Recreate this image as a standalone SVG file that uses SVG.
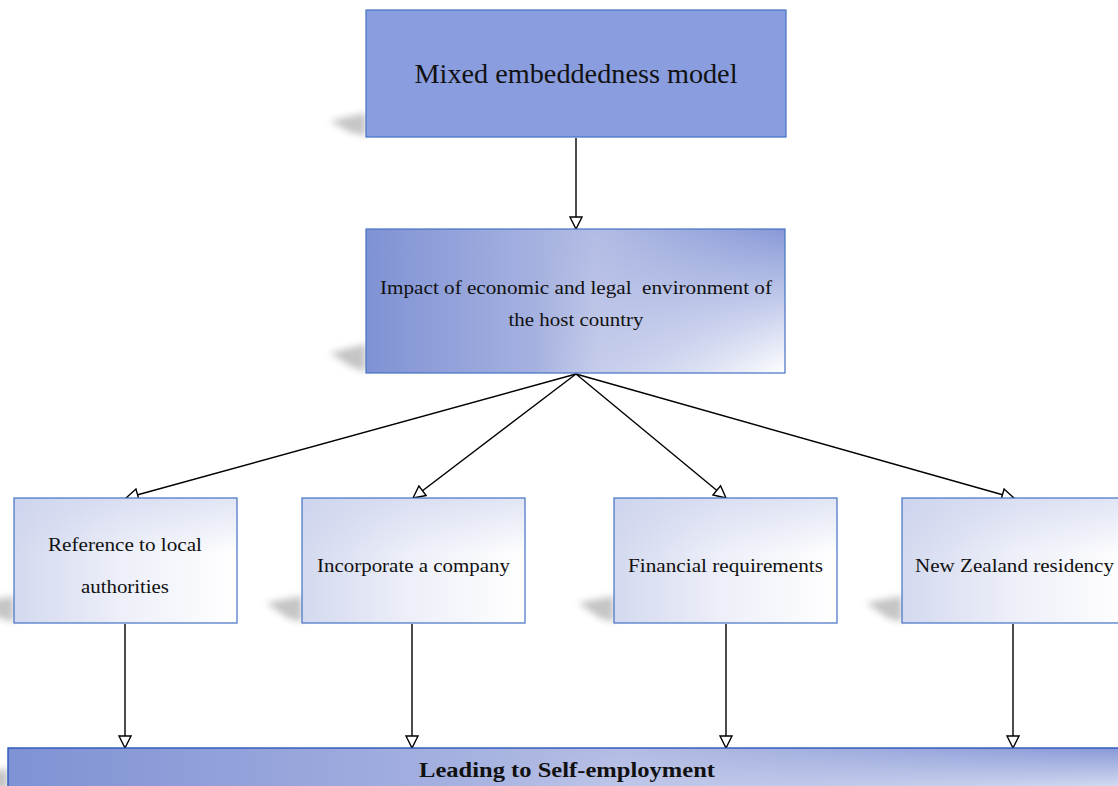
<svg xmlns="http://www.w3.org/2000/svg" width="1118" height="786" viewBox="0 0 1118 786">
  <defs>
    <style>
      .box { stroke: #4472C4; stroke-width: 1.2; }
      .lbl { font-family: "Liberation Serif", "Times New Roman", serif; fill: #111; text-anchor: middle; }
      .edge { stroke: #000; stroke-width: 1.4; fill: none; marker-end: url(#hollow); }
      .shadow { fill: #8a8a8a; opacity: 0.5; filter: url(#soft); }
    </style>
    <marker id="hollow" viewBox="0 0 14 14" refX="13" refY="7" markerWidth="14" markerHeight="14" markerUnits="userSpaceOnUse" orient="auto">
      <path d="M1,1 L13,7 L1,13 Z" fill="#fff" stroke="#000" stroke-width="1.4" stroke-linejoin="miter"/>
    </marker>
    <filter id="soft" x="-50%" y="-50%" width="200%" height="200%">
      <feGaussianBlur stdDeviation="3.5"/>
    </filter>
    <!-- blue fill: dark at the sides, lighter through the middle -->
    <linearGradient id="gBlueH" x1="0" y1="0" x2="1" y2="0">
      <stop offset="0" stop-color="#7f92d4"/>
      <stop offset="0.55" stop-color="#b3bce4"/>
      <stop offset="1" stop-color="#8899d8"/>
    </linearGradient>
    <!-- white glow rising from the lower edge -->
    <linearGradient id="gWhiteV" x1="0" y1="0" x2="0" y2="1">
      <stop offset="0" stop-color="#ffffff" stop-opacity="0"/>
      <stop offset="1" stop-color="#ffffff" stop-opacity="1"/>
    </linearGradient>
    <linearGradient id="gFadeMask" x1="0" y1="0" x2="1" y2="0">
      <stop offset="0" stop-color="#000"/>
      <stop offset="0.4" stop-color="#000"/>
      <stop offset="1" stop-color="#fff"/>
    </linearGradient>
    <mask id="rightFade" maskContentUnits="objectBoundingBox">
      <rect x="0" y="0" width="1" height="1" fill="url(#gFadeMask)"/>
    </mask>
    <!-- pale fill of the four requirement boxes -->
    <linearGradient id="gPaleH" x1="0" y1="0" x2="1" y2="0">
      <stop offset="0" stop-color="#d3d9ef"/>
      <stop offset="0.5" stop-color="#eef0f9"/>
      <stop offset="1" stop-color="#ffffff"/>
    </linearGradient>
    <linearGradient id="gPaleTop" x1="0" y1="0" x2="0" y2="1">
      <stop offset="0" stop-color="#c9d0ec" stop-opacity="0.55"/>
      <stop offset="0.45" stop-color="#c9d0ec" stop-opacity="0"/>
    </linearGradient>
  </defs>

  <rect width="1118" height="786" fill="#ffffff"/>

  <!-- soft cast shadows at the lower-left corner of each box -->
  <g id="shadows">
    <polygon class="shadow" points="330,121 366,113 366,136 350,132"/>
    <polygon class="shadow" points="330,353 366,344 366,372 350,366"/>
    <polygon class="shadow" points="-22,603 14,596 14,622 0,618"/>
    <polygon class="shadow" points="266,603 302,596 302,622 288,618"/>
    <polygon class="shadow" points="578,603 614,596 614,622 600,618"/>
    <polygon class="shadow" points="866,603 902,596 902,622 888,618"/>
    <polygon class="shadow" points="-26,776 8,768 8,790 -6,790"/>
  </g>

  <g id="connectors">
    <line class="edge" x1="576" y1="138" x2="576" y2="229"/>
    <line class="edge" x1="576" y1="374" x2="126" y2="498"/>
    <line class="edge" x1="576" y1="374" x2="413" y2="498"/>
    <line class="edge" x1="576" y1="374" x2="726" y2="498"/>
    <line class="edge" x1="576" y1="374" x2="1014" y2="498"/>
    <line class="edge" x1="125" y1="624" x2="125" y2="748"/>
    <line class="edge" x1="412" y1="624" x2="412" y2="748"/>
    <line class="edge" x1="726" y1="624" x2="726" y2="748"/>
    <line class="edge" x1="1013" y1="624" x2="1013" y2="748"/>
  </g>

  <g id="node-model">
    <rect class="box" x="366" y="10" width="420" height="127" fill="#8a9dde"/>
    <text class="lbl" x="576" y="83" font-size="27" textLength="323" lengthAdjust="spacingAndGlyphs">Mixed embeddedness model</text>
  </g>

  <g id="node-impact">
    <rect x="366" y="229" width="419" height="144" fill="url(#gBlueH)"/>
    <rect x="366" y="229" width="419" height="144" fill="url(#gWhiteV)" mask="url(#rightFade)"/>
    <rect class="box" x="366" y="229" width="419" height="144" fill="none"/>
    <text class="lbl" x="576" y="294" font-size="19.5" xml:space="preserve" textLength="392" lengthAdjust="spacingAndGlyphs">Impact of economic and legal  environment of</text>
    <text class="lbl" x="576" y="326" font-size="19.5" textLength="135" lengthAdjust="spacingAndGlyphs">the host country</text>
  </g>

  <g id="node-authorities">
    <rect x="14" y="498" width="223" height="125" fill="url(#gPaleH)"/>
    <rect x="14" y="498" width="223" height="125" fill="url(#gPaleTop)"/>
    <rect class="box" x="14" y="498" width="223" height="125" fill="none"/>
    <text class="lbl" x="125" y="551" font-size="19.5" textLength="154" lengthAdjust="spacingAndGlyphs">Reference to local</text>
    <text class="lbl" x="125" y="593" font-size="19.5" textLength="88" lengthAdjust="spacingAndGlyphs">authorities</text>
  </g>

  <g id="node-company">
    <rect x="302" y="498" width="223" height="125" fill="url(#gPaleH)"/>
    <rect x="302" y="498" width="223" height="125" fill="url(#gPaleTop)"/>
    <rect class="box" x="302" y="498" width="223" height="125" fill="none"/>
    <text class="lbl" x="413.5" y="572" font-size="19.5" textLength="193" lengthAdjust="spacingAndGlyphs">Incorporate a company</text>
  </g>

  <g id="node-financial">
    <rect x="614" y="498" width="223" height="125" fill="url(#gPaleH)"/>
    <rect x="614" y="498" width="223" height="125" fill="url(#gPaleTop)"/>
    <rect class="box" x="614" y="498" width="223" height="125" fill="none"/>
    <text class="lbl" x="725.5" y="572" font-size="19.5" textLength="195" lengthAdjust="spacingAndGlyphs">Financial requirements</text>
  </g>

  <g id="node-residency">
    <rect x="902" y="498" width="230" height="125" fill="url(#gPaleH)"/>
    <rect x="902" y="498" width="230" height="125" fill="url(#gPaleTop)"/>
    <rect class="box" x="902" y="498" width="230" height="125" fill="none"/>
    <text class="lbl" x="1014.5" y="572" font-size="19.5" textLength="199" lengthAdjust="spacingAndGlyphs">New Zealand residency</text>
  </g>

  <g id="node-self-employment">
    <rect x="8" y="748" width="1120" height="60" fill="url(#gBlueH)"/>
    <rect x="8" y="748" width="1120" height="60" fill="url(#gWhiteV)" mask="url(#rightFade)"/>
    <rect x="8" y="748" width="1120" height="60" fill="none" stroke="#2a55b8" stroke-width="1.4"/>
    <text class="lbl" x="567" y="777" font-size="21" font-weight="bold" textLength="296" lengthAdjust="spacingAndGlyphs">Leading to Self-employment</text>
  </g>
</svg>
